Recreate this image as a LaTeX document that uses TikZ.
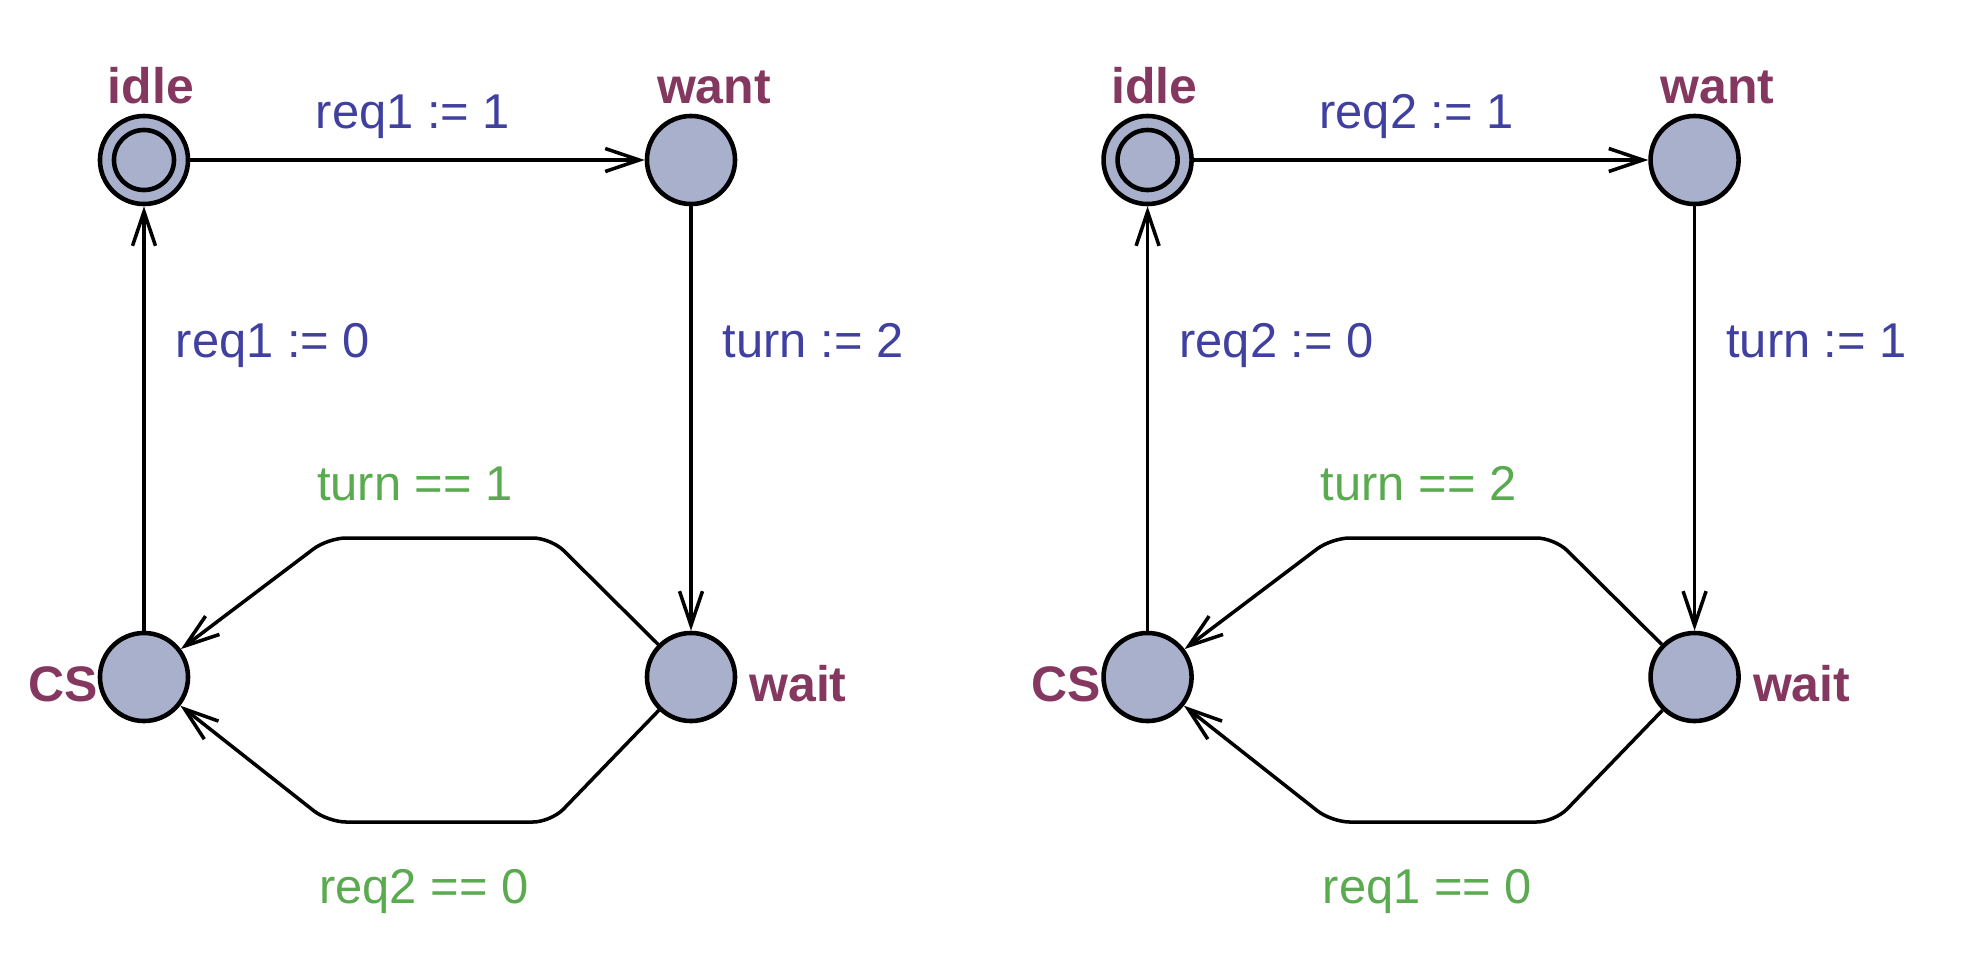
\documentclass[tikz,border=0pt]{standalone}
\usepackage{fontspec}
\setmainfont{Liberation Sans}
\usetikzlibrary{arrows.meta}
\definecolor{locname}{HTML}{843860}
\definecolor{upd}{HTML}{4040A0}
\definecolor{grd}{HTML}{5AAA50}
\definecolor{locfill}{HTML}{A8B0CC}
\tikzset{
  loc/.style={circle,draw=black,fill=locfill,line width=1.3pt,minimum size=0.88cm,inner sep=0pt},
  locname/.style={text=locname,font=\fontsize{14.2pt}{16pt}\selectfont\bfseries,anchor=base,inner sep=0pt},
  updlabel/.style={text=upd,font=\fontsize{13.9pt}{16pt}\selectfont,anchor=base,inner sep=0pt},
  grdlabel/.style={text=grd,font=\fontsize{13.9pt}{16pt}\selectfont,anchor=base,inner sep=0pt},
  edge/.style={draw=black,line width=1pt,-{Straight Barb[length=0.34cm,width=0.23cm,line width=1pt]}},
}
\newcommand\drawautomaton[6]{%
  % #1 prefix, #2 req:=1, #3 req:=0, #4 turn:=, #5 turn==, #6 req==0
  \node[loc] (#1idle) at (144,160) {};
  \draw[line width=1.3pt] (#1idle.center) circle[radius=0.30cm];
  \node[loc] (#1want) at (691,160) {};
  \node[loc] (#1CS) at (144,677) {};
  \node[loc] (#1wait) at (691,677) {};
  \node[locname] (#1idlelab) at (151,103) {idle};
  \node[locname] (#1wantlab) at (714,103) {want};
  \node[locname] (#1CSlab) at (63,701) {CS};
  \node[locname] (#1waitlab) at (798,701) {wait};
  \coordinate (#1ua) at (551,538);
  \coordinate (#1ub) at (328,538);
  \coordinate (#1la) at (551,822);
  \coordinate (#1lb) at (328,822);
  \draw[edge] (#1idle) -- (#1want);
  \draw[edge] (#1want) -- (#1wait);
  \draw[edge] (#1CS) -- (#1idle);
  \draw[edge,rounded corners=0.18cm] (#1wait) -- (#1ua) -- (#1ub) -- (#1CS);
  \draw[edge,rounded corners=0.18cm] (#1wait) -- (#1la) -- (#1lb) -- (#1CS);
  \node[updlabel] (#1l1) at (413,128) {#2};
  \node[updlabel] (#1l2) at (273,357) {#3};
  \node[updlabel] (#1l3) at (813,357) {#4};
  \node[grdlabel] (#1l4) at (415,500) {#5};
  \node[grdlabel] (#1l5) at (424,903) {#6};
}
\begin{document}
\begin{tikzpicture}[x=0.01cm,y=-0.01cm]
\useasboundingbox (0,0) rectangle (1962,978);
\begin{scope}
\drawautomaton{a}{req1 := 1}{req1 := 0}{turn := 2}{turn == 1}{req2 == 0}
\end{scope}
\begin{scope}[xshift=10.03cm]
\drawautomaton{b}{req2 := 1}{req2 := 0}{turn := 1}{turn == 2}{req1 == 0}
\end{scope}
\end{tikzpicture}
\end{document}
